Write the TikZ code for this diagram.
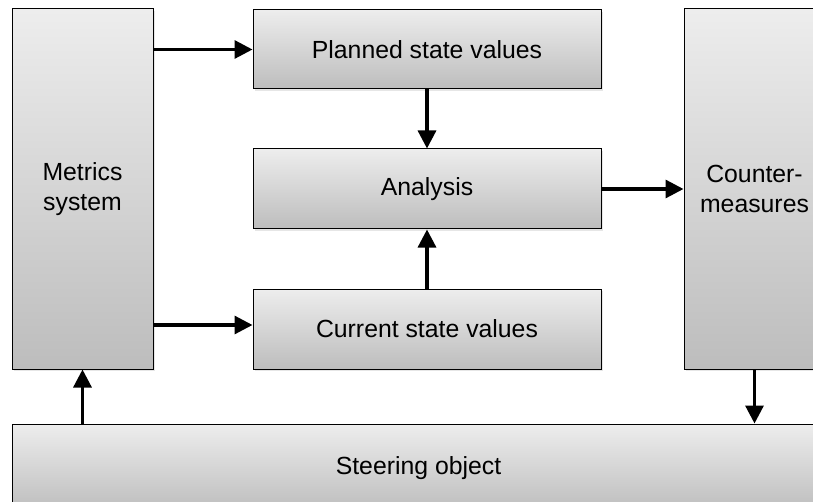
\documentclass[tikz,border=0pt]{standalone}
\usepackage{fontspec}
\setmainfont{Liberation Sans}
\usetikzlibrary{positioning, arrows.meta, shadows}

\begin{document}
\begin{tikzpicture}[
        x=0.5pt, y=-0.5pt,
        >={Triangle[length=9pt, width=9pt]},
        every node/.style={font=\fontsize{12.4}{15}\selectfont},
        block/.style={rectangle, draw, line width=0.5pt, top color=black!7, bottom color=black!26, align=center, inner sep=0pt,
            drop shadow={opacity=0.2, shadow xshift=1pt, shadow yshift=-1pt}},
        link/.style={->, line width=1.6pt}
    ]
        \clip (0,0) rectangle (813,502);
        % Nodes
        \node[block, minimum width=70.5pt, minimum height=180pt] (metrics) at (82.5,189) {Metrics\\system};
        \node[block, minimum width=174pt, minimum height=39.5pt] (planned) at (427,49.5) {Planned state values};
        \node[block, minimum width=174pt, minimum height=40pt] (analysis) at (427,189) {Analysis};
        \node[block, minimum width=174pt, minimum height=40pt] (current) at (427,329) {Current state values};
        \node[block, minimum width=70.5pt, minimum height=180pt] (counter) at (754.5,189) {Counter-\\measures};
        \node[block, minimum width=406.5pt, minimum height=44pt] (steering) at (418.5,468) {Steering object};

        % Arrows
        \draw[link] (metrics.east |- planned.west) -- (planned.west);
        \draw[link] ([yshift=2pt]metrics.east |- current.west) -- ([yshift=2pt]current.west);
        \draw[link] (planned.south) -- (analysis.north);
        \draw[link] (current.north) -- (analysis.south);
        \draw[link] (analysis.east) -- (counter.west);
        \draw[link] (counter.south) -- (counter.south |- steering.north);
        \draw[link] (metrics.south |- steering.north) -- (metrics.south);
    \end{tikzpicture}
\end{document}
